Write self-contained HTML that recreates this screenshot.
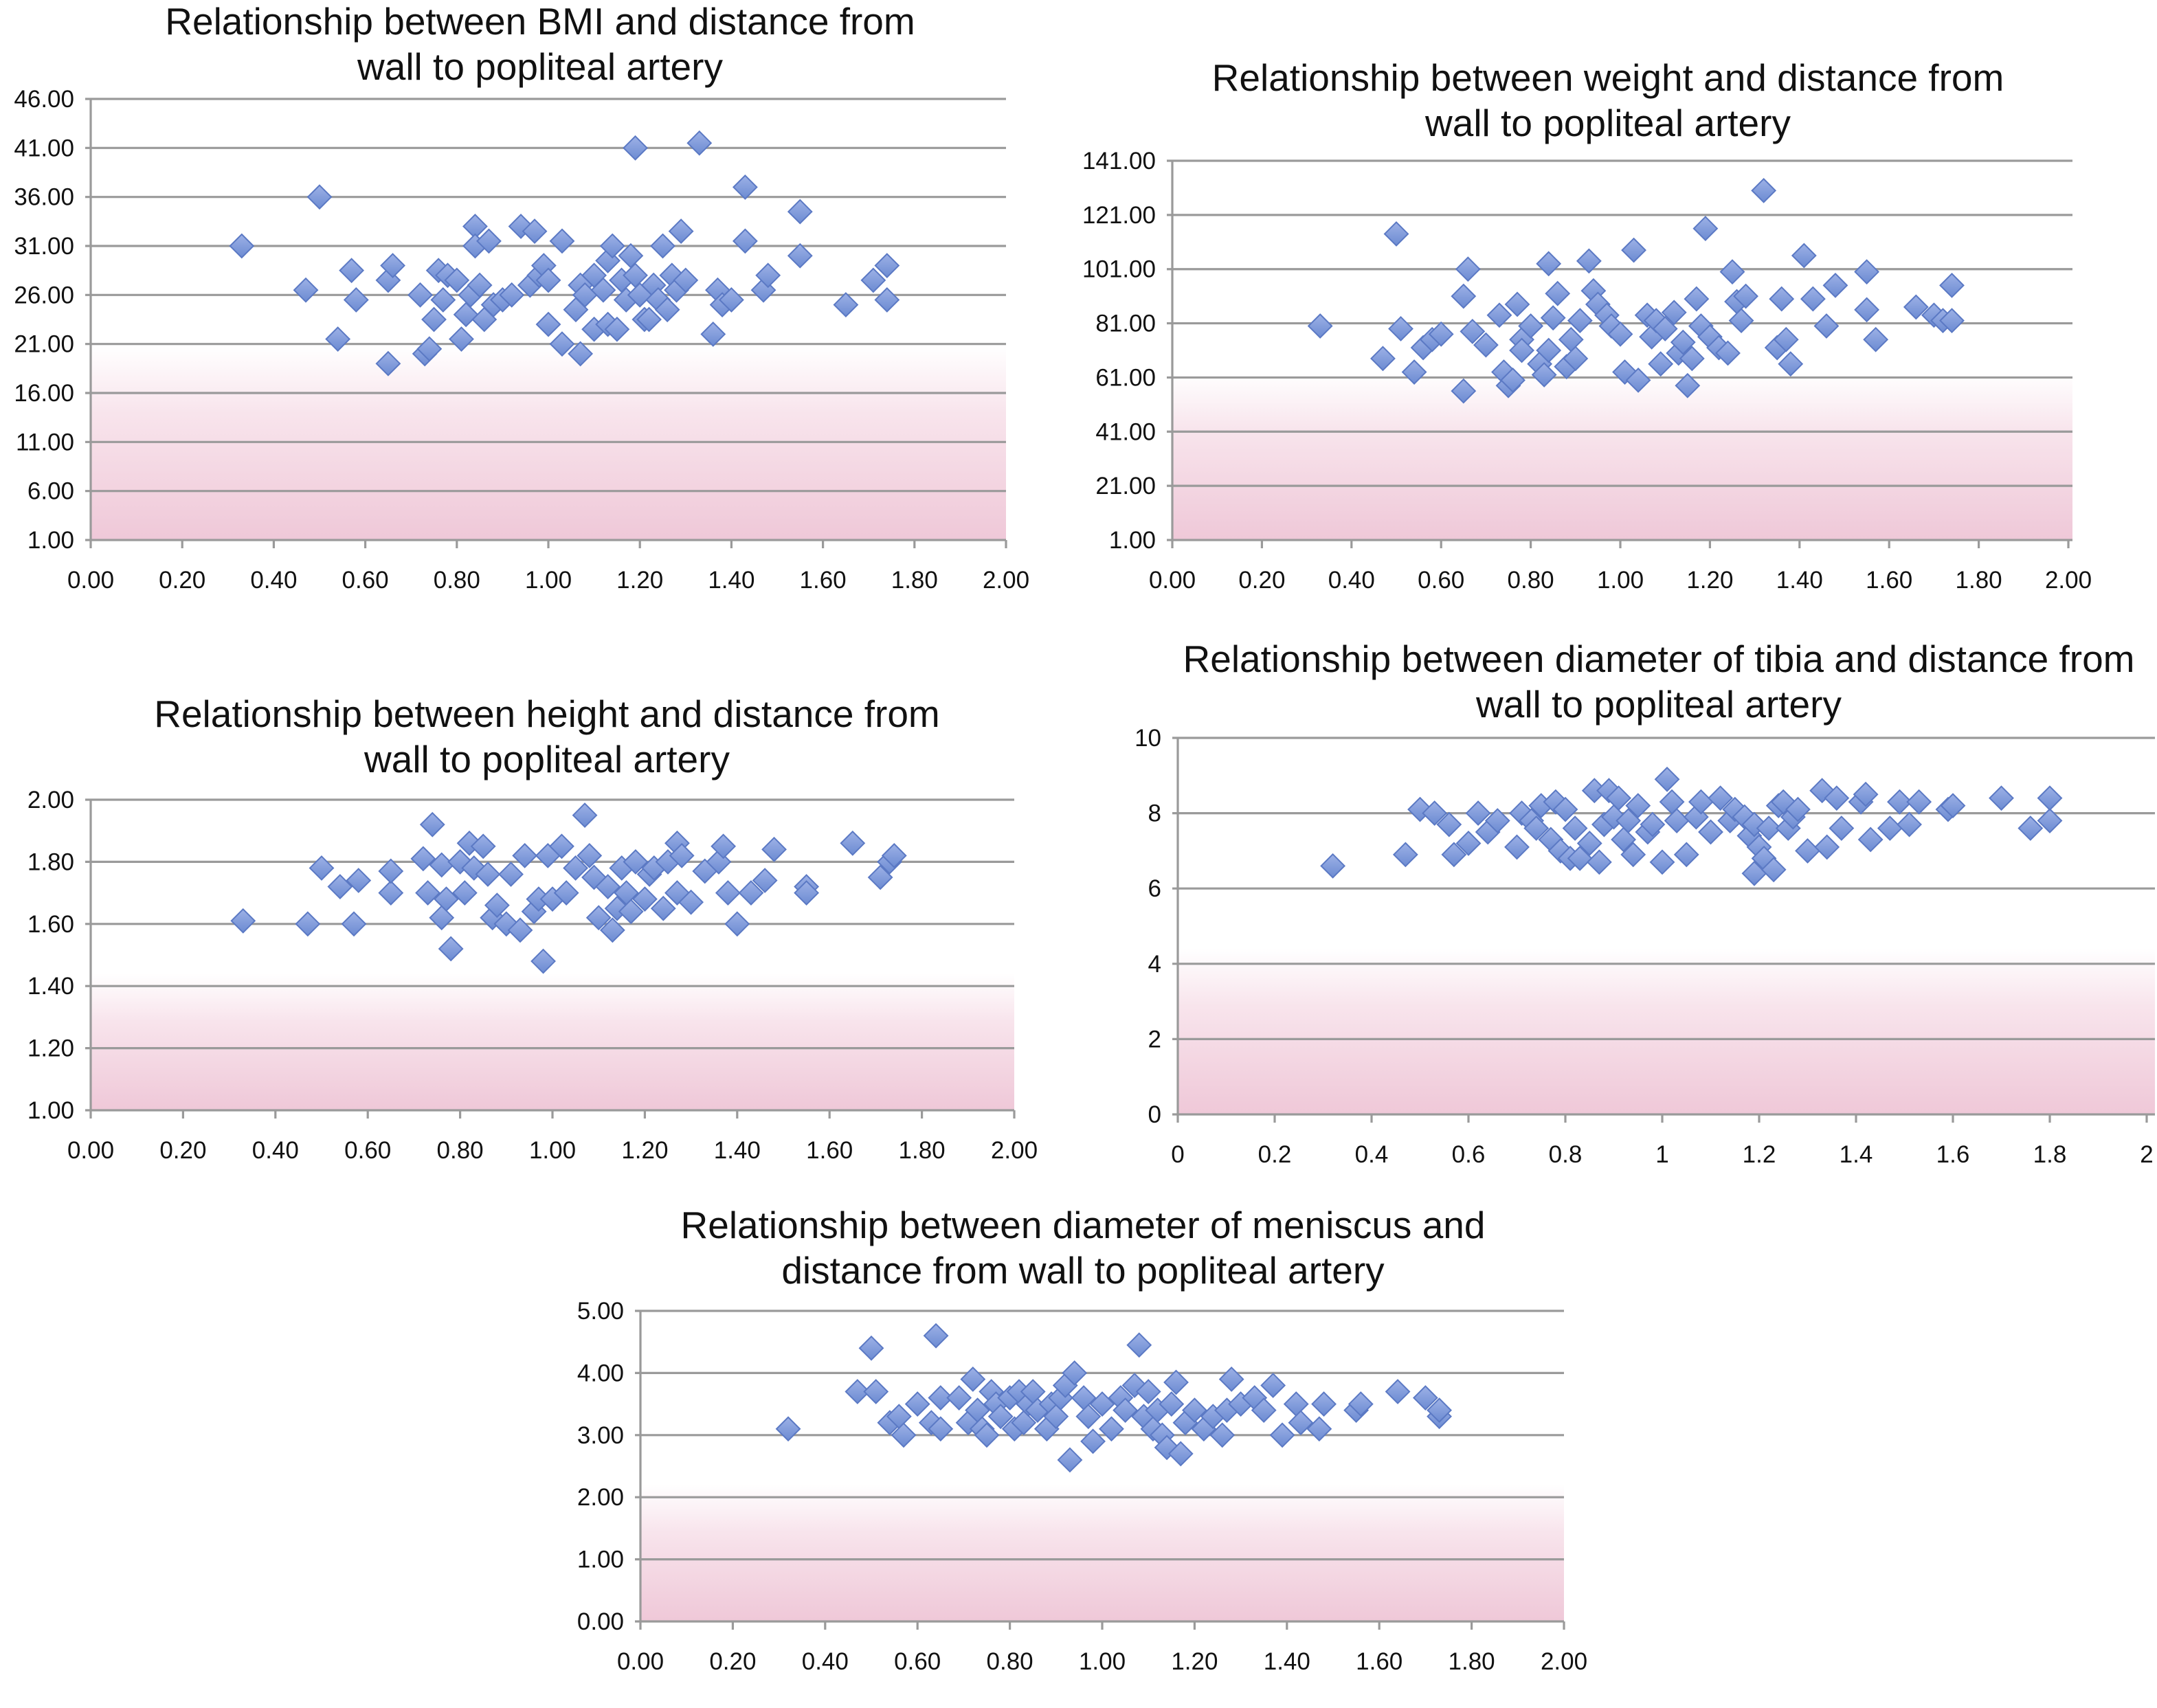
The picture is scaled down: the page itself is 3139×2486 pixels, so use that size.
<!DOCTYPE html>
<html><head><meta charset="utf-8"><style>
html,body{margin:0;padding:0;background:#fff;}
svg{display:block;font-family:"Liberation Sans",Arial,sans-serif;}
</style></head><body>
<svg id="root" width="3139" height="2486" viewBox="0 0 1569.5 1243" xmlns="http://www.w3.org/2000/svg">
<defs>
<linearGradient id="pink" x1="0" y1="0" x2="0" y2="1">
<stop offset="0" stop-color="#ffffff"/><stop offset="0.35" stop-color="#f8e4ec"/><stop offset="1" stop-color="#efc8d8"/>
</linearGradient>
<linearGradient id="dia" x1="0" y1="0" x2="0" y2="1">
<stop offset="0" stop-color="#9db1e6"/><stop offset="1" stop-color="#6c8bd2"/>
</linearGradient>
</defs>
</svg>
<script>
const xBmi=[0.33,0.47,0.5,0.54,0.57,0.58,0.65,0.65,0.66,0.72,0.73,0.74,0.75,0.76,0.77,0.78,0.8,0.81,0.82,0.83,0.84,0.84,0.85,0.86,0.87,0.88,0.9,0.92,0.94,0.96,0.97,0.98,0.99,1.0,1.0,1.03,1.03,1.06,1.07,1.07,1.08,1.1,1.1,1.12,1.13,1.13,1.14,1.15,1.16,1.17,1.18,1.19,1.19,1.2,1.21,1.22,1.23,1.24,1.25,1.26,1.27,1.28,1.29,1.3,1.33,1.36,1.37,1.38,1.4,1.43,1.43,1.47,1.48,1.55,1.55,1.65,1.71,1.74,1.74];
const yBmi=[31,26.5,36,21.5,28.5,25.5,19,27.5,29,26,20,20.5,23.5,28.5,25.5,28,27.5,21.5,24,26,33,31,27,23.5,31.5,25,25.5,26,33,27,32.5,28,29,27.5,23,31.5,21,24.5,20,27,26,22.5,28,26.5,23,29.5,31,22.5,27.5,25.5,30,28,41,26,23.5,23.5,27,25.5,31,24.5,28,26.5,32.5,27.5,41.5,22,26.5,25,25.5,37,31.5,26.5,28,34.5,30,25,27.5,29,25.5];
const xWt=[0.33,0.47,0.5,0.51,0.54,0.56,0.58,0.6,0.65,0.65,0.66,0.67,0.7,0.73,0.74,0.75,0.76,0.77,0.78,0.78,0.8,0.82,0.83,0.84,0.84,0.85,0.86,0.88,0.89,0.9,0.91,0.93,0.94,0.95,0.97,0.98,1.0,1.01,1.03,1.04,1.06,1.07,1.08,1.09,1.1,1.12,1.13,1.14,1.15,1.16,1.17,1.18,1.19,1.2,1.22,1.24,1.25,1.26,1.27,1.28,1.32,1.35,1.36,1.37,1.38,1.41,1.43,1.46,1.48,1.55,1.55,1.57,1.66,1.7,1.72,1.74,1.74];
const yWt=[80,68,114,79,63,72,75,77,56,91,101,78,73,84,63,58,60,88,75,71,80,66,62,103,71,83,92,65,75,68,82,104,93,88,84,80,77,63,108,60,84,76,82,66,79,85,70,74,58,68,90,80,116,76,72,70,100,89,82,91,130,72,90,75,66,106,90,80,95,100,86,75,87,84,82,95,82];
const xHt=[0.33,0.47,0.5,0.54,0.57,0.58,0.65,0.65,0.72,0.73,0.74,0.76,0.76,0.77,0.78,0.8,0.81,0.82,0.83,0.85,0.86,0.87,0.88,0.9,0.91,0.93,0.94,0.96,0.97,0.98,0.99,1.0,1.02,1.03,1.05,1.07,1.08,1.09,1.1,1.12,1.13,1.14,1.15,1.16,1.17,1.18,1.2,1.21,1.22,1.24,1.25,1.27,1.27,1.28,1.3,1.33,1.36,1.37,1.38,1.4,1.43,1.46,1.48,1.55,1.55,1.65,1.71,1.73,1.74];
const yHt=[1.61,1.6,1.78,1.72,1.6,1.74,1.7,1.77,1.81,1.7,1.92,1.79,1.62,1.68,1.52,1.8,1.7,1.86,1.78,1.85,1.76,1.62,1.66,1.6,1.76,1.58,1.82,1.64,1.68,1.48,1.82,1.68,1.85,1.7,1.78,1.95,1.82,1.75,1.62,1.72,1.58,1.65,1.78,1.7,1.64,1.8,1.68,1.76,1.78,1.65,1.8,1.86,1.7,1.82,1.67,1.77,1.8,1.85,1.7,1.6,1.7,1.74,1.84,1.72,1.7,1.86,1.75,1.8,1.82];
const xTib=[0.32,0.47,0.5,0.53,0.56,0.57,0.6,0.62,0.64,0.66,0.7,0.71,0.73,0.74,0.75,0.77,0.78,0.79,0.8,0.81,0.82,0.83,0.85,0.86,0.87,0.88,0.89,0.9,0.91,0.92,0.93,0.94,0.95,0.97,0.98,1.0,1.01,1.02,1.03,1.05,1.07,1.08,1.1,1.12,1.14,1.15,1.17,1.18,1.19,1.19,1.2,1.21,1.22,1.23,1.24,1.25,1.26,1.27,1.28,1.3,1.33,1.34,1.36,1.37,1.41,1.42,1.43,1.47,1.49,1.51,1.53,1.59,1.6,1.7,1.76,1.8,1.8];
const yTib=[6.6,6.9,8.1,8,7.7,6.9,7.2,8,7.5,7.8,7.1,8,7.8,7.6,8.2,7.3,8.3,7,8.1,6.8,7.6,6.8,7.2,8.6,6.7,7.7,8.6,7.9,8.4,7.3,7.8,6.9,8.2,7.5,7.7,6.7,8.9,8.3,7.8,6.9,7.9,8.3,7.5,8.4,7.8,8.1,7.9,7.4,7.7,6.4,7.1,6.8,7.6,6.5,8.2,8.3,7.6,7.9,8.1,7,8.6,7.1,8.4,7.6,8.3,8.5,7.3,7.6,8.3,7.7,8.3,8.1,8.2,8.4,7.6,7.8,8.4];
const xMen=[0.32,0.47,0.5,0.51,0.54,0.56,0.57,0.6,0.63,0.64,0.65,0.65,0.69,0.71,0.72,0.73,0.74,0.75,0.76,0.77,0.78,0.8,0.81,0.82,0.83,0.84,0.85,0.86,0.88,0.89,0.9,0.91,0.92,0.93,0.94,0.96,0.97,0.98,1.0,1.02,1.04,1.05,1.07,1.08,1.09,1.1,1.11,1.12,1.13,1.14,1.15,1.16,1.17,1.18,1.2,1.22,1.24,1.26,1.27,1.28,1.3,1.33,1.35,1.37,1.39,1.42,1.43,1.47,1.48,1.55,1.56,1.64,1.7,1.73,1.73];
const yMen=[3.1,3.7,4.4,3.7,3.2,3.3,3,3.5,3.2,4.6,3.1,3.6,3.6,3.2,3.9,3.4,3.1,3,3.7,3.5,3.3,3.6,3.1,3.7,3.2,3.5,3.7,3.4,3.1,3.5,3.3,3.6,3.8,2.6,4,3.6,3.3,2.9,3.5,3.1,3.6,3.4,3.8,4.45,3.3,3.7,3.1,3.4,3,2.8,3.5,3.85,2.7,3.2,3.4,3.1,3.3,3,3.4,3.9,3.5,3.6,3.4,3.8,3,3.5,3.2,3.1,3.5,3.4,3.5,3.7,3.6,3.3,3.4];
const ticksBmi=[1,6,11,16,21,26,31,36,41,46];
const ticksWt=[1,21,41,61,81,101,121,141];
const ticksHt=[1.0,1.2,1.4,1.6,1.8,2.0];
const ticksTib=[0,2,4,6,8,10];
const ticksMen=[0,1,2,3,4,5];
const xTicks=[0,0.2,0.4,0.6,0.8,1.0,1.2,1.4,1.6,1.8,2.0];

const NS='http://www.w3.org/2000/svg';
const root=document.getElementById('root');
function mk(tag,attrs,parent){const e=document.createElementNS(NS,tag);for(const k in attrs)e.setAttribute(k,attrs[k]);(parent||root).appendChild(e);return e;}

function chart(cfg){
  const g=mk('g',{});
  
  
  const {x0,x1,y0,y1,ymin,ymax}=cfg;
  const sx=v=>x0+(v-0)/2*(x1-x0);
  const sy=v=>y1-(v-ymin)/(ymax-ymin)*(y1-y0);
  cfg.title.forEach((t,i)=>{
    const tt=mk('text',{x:cfg.tx,y:cfg.ty+i*33,'text-anchor':'middle','font-size':27.5,fill:'#111'},g);
    tt.textContent=t;
    
    
  });
  const pr=mk('rect',{x:x0,y:y1-(y1-y0)*0.44,width:cfg.xr-x0,height:(y1-y0)*0.44,fill:'url(#pink)'},g);
  
  
  cfg.yt.forEach(v=>{
    const y=sy(v);
    const l=mk('line',{x1:x0-4,x2:cfg.xr,y1:y,y2:y,stroke:'#9a9a9a','stroke-width':1.6},g);
    
    
    const t=mk('text',{x:x0-12,y:y+6,'text-anchor':'end','font-size':17.5,fill:'#111'},g);
    t.textContent=v.toFixed(cfg.yd);
    
    
  });
  const ax=mk('line',{x1:x0,x2:x0,y1:y0,y2:y1,stroke:'#9a9a9a','stroke-width':1.6},g);
  
  
  xTicks.forEach(v=>{
    const x=sx(v);
    const tk=mk('line',{x1:x,x2:x,y1:y1,y2:y1+6,stroke:'#9a9a9a','stroke-width':1.6},g);
    
    
    const t=mk('text',{x:x,y:y1+35,'text-anchor':'middle','font-size':17.5,fill:'#111'},g);
    t.textContent=cfg.xd===0?String(Math.round(v*10)/10):v.toFixed(2);
    
    
  });
  cfg.xs.forEach((xv,i)=>{
    const cx=sx(xv),cy=sy(cfg.ys[i]),r=8.5;
    const p=mk('polygon',{points:`${cx},${cy-r} ${cx+r},${cy} ${cx},${cy+r} ${cx-r},${cy}`,fill:'url(#dia)',stroke:'#5b79c4','stroke-width':1},g);
    
    
  });
}
chart({name:'bmi-chart',title:['Relationship between BMI and distance from','wall to popliteal artery'],tx:393,ty:25,x0:66,x1:732,xr:732,y0:72,y1:393,ymin:1,ymax:46,yt:ticksBmi,yd:2,xd:2,xs:xBmi,ys:yBmi});
chart({name:'weight-chart',title:['Relationship between weight and distance from','wall to popliteal artery'],tx:1170,ty:66,x0:853,x1:1505,xr:1508,y0:117,y1:393,ymin:1,ymax:141,yt:ticksWt,yd:2,xd:2,xs:xWt,ys:yWt});
chart({name:'height-chart',title:['Relationship between height and distance from','wall to popliteal artery'],tx:398,ty:529,x0:66,x1:738,xr:738,y0:582,y1:808,ymin:1,ymax:2,yt:ticksHt,yd:2,xd:2,xs:xHt,ys:yHt});
chart({name:'tibia-chart',title:['Relationship between diameter of tibia and distance from','wall to popliteal artery'],tx:1207,ty:489,x0:857,x1:1562,xr:1568,y0:537,y1:811,ymin:0,ymax:10,yt:ticksTib,yd:0,xd:0,xs:xTib,ys:yTib});
chart({name:'meniscus-chart',title:['Relationship between diameter of meniscus and','distance from wall to popliteal artery'],tx:788,ty:901,x0:466,x1:1138,xr:1138,y0:954,y1:1180,ymin:0,ymax:5,yt:ticksMen,yd:2,xd:2,xs:xMen,ys:yMen});
</script>
</body></html>
